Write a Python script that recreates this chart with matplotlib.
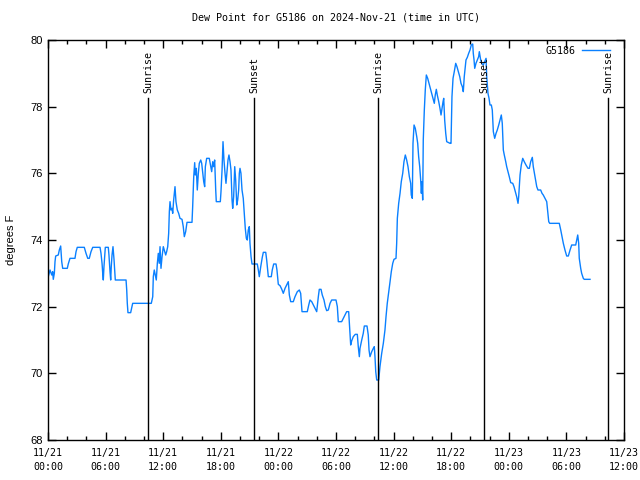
import datetime as dt
import matplotlib
matplotlib.use("Agg")
import matplotlib.pyplot as plt
import matplotlib.dates as mdates

# hours since 2024-11-21 00:00 UTC, dew point in F
hours = [0.03, 0.21, 0.39, 0.49, 0.55, 0.66, 0.73, 0.80, 1.07, 1.18, 1.32, 1.43, 1.53,
         2.01, 2.11, 2.29, 2.81, 2.92, 3.05, 3.78, 3.96, 4.14, 4.30, 4.48, 4.66, 5.42,
         5.52, 5.63, 5.70, 5.76, 5.83, 5.97, 6.28, 6.35, 6.46, 6.53, 6.59, 6.67, 6.77,
         6.88, 7.01, 8.13, 8.20, 8.26, 8.33, 8.61, 8.75, 8.82, 10.76, 10.91, 10.97,
         11.07, 11.18, 11.28, 11.39, 11.49, 11.59, 11.67, 11.77, 11.88, 12.01, 12.16,
         12.26, 12.36, 12.47, 12.57, 12.64, 12.71, 12.81, 12.92, 12.99, 13.09, 13.23,
         13.33, 13.47, 13.61, 13.75, 13.96, 14.09, 14.20, 14.34, 14.48, 15.00, 15.07,
         15.18, 15.28, 15.34, 15.45, 15.55, 15.66, 15.76, 15.91, 16.01, 16.11, 16.22,
         16.32, 16.39, 16.53, 16.80, 16.95, 17.05, 17.16, 17.26, 17.36, 17.47, 17.53,
         17.95, 18.02, 18.13, 18.23, 18.33, 18.44, 18.54, 18.65, 18.75, 18.85, 18.96,
         19.06, 19.17, 19.24, 19.34, 19.45, 19.55, 19.66, 19.76, 19.86, 19.93, 20.00,
         20.10, 20.21, 20.34, 20.45, 20.55, 20.66, 20.76, 20.86, 20.97, 21.04, 21.15,
         21.25, 21.80, 21.91, 22.01, 22.16, 22.32, 22.43, 22.68, 22.78, 22.95, 23.26,
         23.36, 23.51, 23.75, 23.85, 23.99, 24.17, 24.34, 24.51, 24.69, 24.86, 25.03,
         25.14, 25.28, 25.55, 25.73, 25.97, 26.18, 26.32, 26.46, 27.01, 27.16, 27.29,
         27.47, 27.64, 27.81, 27.99, 28.16, 28.26, 28.44, 28.57, 28.75, 28.89, 29.03,
         29.20, 29.38, 29.55, 30.00, 30.14, 30.24, 30.59, 30.76, 30.94, 31.11, 31.32,
         31.39, 31.46, 31.53, 31.64, 31.80, 32.01, 32.22, 32.32, 32.43, 32.50, 32.68,
         32.84, 32.95, 33.23, 33.36, 33.44, 33.54, 33.72, 33.89, 33.99, 34.06, 34.14,
         34.24, 34.45, 34.58, 34.76, 34.93, 35.10, 35.21, 35.34, 35.49, 35.63, 35.76,
         35.91, 36.04, 36.25, 36.32, 36.39, 36.53, 36.67, 36.80, 36.95, 37.08, 37.22,
         37.36, 37.50, 37.64, 37.78, 37.84, 37.95, 38.02, 38.13, 38.26, 38.41, 38.51,
         38.61, 38.72, 38.82, 38.89, 38.96, 39.03, 39.09, 39.20, 39.30, 39.41, 39.55,
         39.69, 39.82, 39.97, 40.10, 40.24, 40.34, 40.45, 40.55, 40.70, 40.83, 40.94,
         41.04, 41.15, 41.22, 41.32, 41.43, 41.53, 41.88, 41.98, 42.08, 42.19, 42.32,
         42.47, 42.60, 42.74, 42.89, 43.02, 43.16, 43.26, 43.36, 43.47, 43.54, 43.68,
         43.82, 43.96, 44.09, 44.24, 44.30, 44.38, 44.45, 44.58, 44.72, 44.86, 44.93,
         45.07, 45.18, 45.34, 45.63, 45.70, 45.83, 45.94, 46.04, 46.18, 46.28, 46.39,
         46.53, 46.67, 46.80, 46.95, 47.08, 47.22, 47.32, 47.43, 47.53, 47.68, 47.78,
         47.92, 48.05, 48.20, 48.41, 48.54, 48.68, 48.82, 48.96, 49.03, 49.09, 49.17,
         49.30, 49.45, 49.61, 49.79, 50.00, 50.14, 50.28, 50.45, 50.55, 50.73, 50.91,
         51.04, 51.32, 51.46, 51.59, 51.77, 51.95, 52.05, 52.16, 52.26, 53.26, 53.41,
         53.54, 53.68, 53.85, 54.03, 54.20, 54.38, 54.55, 54.97, 55.07, 55.18, 55.28,
         55.34, 55.49, 55.59, 55.76, 55.86, 56.46]

dewpt = [72.9, 73.1, 72.95, 73.05, 72.82, 73.0, 73.35, 73.52, 73.55, 73.7, 73.82, 73.35, 73.15,
         73.15, 73.28, 73.45, 73.45, 73.65, 73.78, 73.78, 73.6, 73.45, 73.45, 73.65, 73.78, 73.78,
         73.6, 73.3, 73.0, 72.8, 73.2, 73.78, 73.78, 73.55, 73.05, 72.8, 73.2, 73.55, 73.8,
         73.4, 72.8, 72.8, 72.5, 72.1, 71.82, 71.82, 72.0, 72.1, 72.1, 72.3, 72.9,
         73.1, 72.95, 72.8, 73.3, 73.6, 73.3, 73.8, 73.15, 73.5, 73.8, 73.65,
         73.55, 73.65, 73.8, 74.2, 74.85, 75.15, 74.9, 74.95, 74.8, 75.2, 75.6,
         75.15, 74.9, 74.8, 74.65, 74.62, 74.4, 74.1, 74.25, 74.53, 74.53, 75.0,
         75.9, 76.32, 75.95, 76.15, 75.5, 76.0, 76.3, 76.4, 76.3, 76.05, 75.75,
         75.6, 76.2, 76.45, 76.45, 76.2, 76.05, 76.35, 76.2, 76.4, 75.5, 75.15,
         75.15, 75.45, 76.1, 76.95, 76.4, 76.0, 75.7, 76.05, 76.4, 76.55, 76.35,
         76.1, 75.2, 74.95, 75.3, 76.2, 75.8, 75.05, 75.2, 75.5, 76.0, 76.15,
         76.0, 75.5, 75.25, 74.8, 74.35, 74.05, 74.0, 74.3, 74.4, 73.9, 73.5,
         73.28, 73.28, 73.1, 72.9, 73.2, 73.48, 73.63, 73.63, 73.4, 72.9, 72.9,
         73.1, 73.28, 73.28, 73.1, 72.67, 72.63, 72.53, 72.4, 72.55, 72.65, 72.75,
         72.35, 72.15, 72.15, 72.3, 72.45, 72.5, 72.4, 71.85, 71.85, 72.05, 72.2,
         72.15, 72.05, 71.95, 71.85, 72.3, 72.52, 72.52, 72.35, 72.2, 72.0, 71.88,
         71.9, 72.1, 72.2, 72.2, 72.0, 71.55, 71.55, 71.65, 71.75, 71.85, 71.85,
         71.5, 71.1, 70.85, 70.98, 71.1, 71.17, 71.17, 70.8, 70.5, 70.75, 71.0,
         71.2, 71.42, 71.42, 71.15, 70.7, 70.5, 70.65, 70.75, 70.8, 70.5, 70.05,
         69.8, 69.8, 70.2, 70.6, 70.9, 71.3, 71.7, 72.1, 72.45, 72.75, 73.05,
         73.3, 73.42, 73.45, 73.9, 74.65, 75.1, 75.4, 75.75, 76.0, 76.35, 76.55,
         76.4, 76.2, 75.9, 75.7, 75.35, 75.25, 76.9, 77.45, 77.35, 77.1, 76.9,
         76.5, 76.2, 75.8, 75.4, 75.75, 75.2, 77.0, 77.9, 78.5, 78.95, 78.85,
         78.7, 78.55, 78.4, 78.25, 78.1, 78.35, 78.52, 78.35, 78.15, 77.95, 77.75,
         77.95, 78.15, 78.25, 77.6, 77.2, 76.95, 76.9, 76.9, 78.3, 78.85, 79.05,
         79.3, 79.2, 79.05, 78.9, 78.7, 78.6, 78.45, 78.9, 79.2, 79.4, 79.48,
         79.6, 79.7, 79.85, 79.88, 79.6, 79.4, 79.15, 79.3, 79.4, 79.5, 79.65,
         79.4, 79.3, 79.25, 79.45, 78.9, 78.4, 78.25, 78.05, 78.05, 77.9, 77.25,
         77.05, 77.2, 77.3, 77.45, 77.6, 77.75, 77.5, 76.7, 76.55, 76.35, 76.2,
         76.05, 75.9, 75.72, 75.7, 75.6, 75.45, 75.3, 75.1, 75.3, 75.6, 75.95,
         76.25, 76.45, 76.35, 76.25, 76.15, 76.15, 76.35, 76.48, 76.2, 75.9, 75.6,
         75.5, 75.5, 75.4, 75.35, 75.25, 75.15, 74.85, 74.55, 74.5, 74.5, 74.3,
         74.1, 73.9, 73.7, 73.52, 73.52, 73.7, 73.85, 73.85, 74.0, 74.15, 73.9,
         73.45, 73.15, 73.0, 72.85, 72.82, 72.82]

sun_hours = [10.45, 21.49, 34.41, 45.45, 58.36]
sun_labels = ['Sunrise', 'Sunset', 'Sunrise', 'Sunset', 'Sunrise']

start = dt.datetime(2024, 11, 21, 0, 0)
times = [start + dt.timedelta(hours=h) for h in hours]

mono = 'DejaVu Sans Mono'
sans = 'Liberation Sans'

fig = plt.figure(figsize=(6.4, 4.8), dpi=100)
ax = fig.add_axes([48/640, 40/480, 576/640, 400/480])

ax.plot(times, dewpt, color='#0a80ff', lw=1.0, label='G5186')

for h, lab in zip(sun_hours, sun_labels):
    t = start + dt.timedelta(hours=h)
    ax.plot([t, t], [68, 78.26], color='black', lw=1.0)
    ax.text(t, 78.42, lab, rotation=90, ha='center', va='bottom',
            fontsize=7.2, family=mono)

ax.set_xlim(start, start + dt.timedelta(hours=60))
ax.set_ylim(68, 80)
ax.set_yticks(range(68, 81, 2))
ax.xaxis.set_major_locator(mdates.HourLocator(byhour=range(0, 24, 6)))
ax.xaxis.set_minor_locator(mdates.HourLocator(byhour=range(0, 24, 2)))
ax.xaxis.set_major_formatter(mdates.DateFormatter('%m/%d\n%H:%M'))

ax.tick_params(which='both', direction='in', top=True, right=True, width=1.0)
ax.tick_params(which='major', length=6)
ax.tick_params(which='minor', length=3)
ax.tick_params(axis='x', pad=6)
ax.tick_params(axis='y', pad=4)
for lab in ax.get_xticklabels():
    lab.set_family(mono)
    lab.set_fontsize(7.2)
    lab.set_linespacing(1.5)
for lab in ax.get_yticklabels():
    lab.set_family(sans)
    lab.set_fontsize(8)
for sp in ax.spines.values():
    sp.set_linewidth(1.0)

ax.set_ylabel('degrees F', family=sans, fontsize=8, labelpad=10)
ax.set_title('Dew Point for G5186 on 2024-Nov-21 (time in UTC)',
             family=mono, fontsize=7.2, pad=14)

leg = ax.legend(loc='upper right', bbox_to_anchor=(0.986, 1.0), frameon=False,
                markerfirst=False, prop={'family': mono, 'size': 7.2},
                handlelength=2.8, borderaxespad=0.2, handletextpad=0.6)

fig.savefig('out.png', dpi=100)
